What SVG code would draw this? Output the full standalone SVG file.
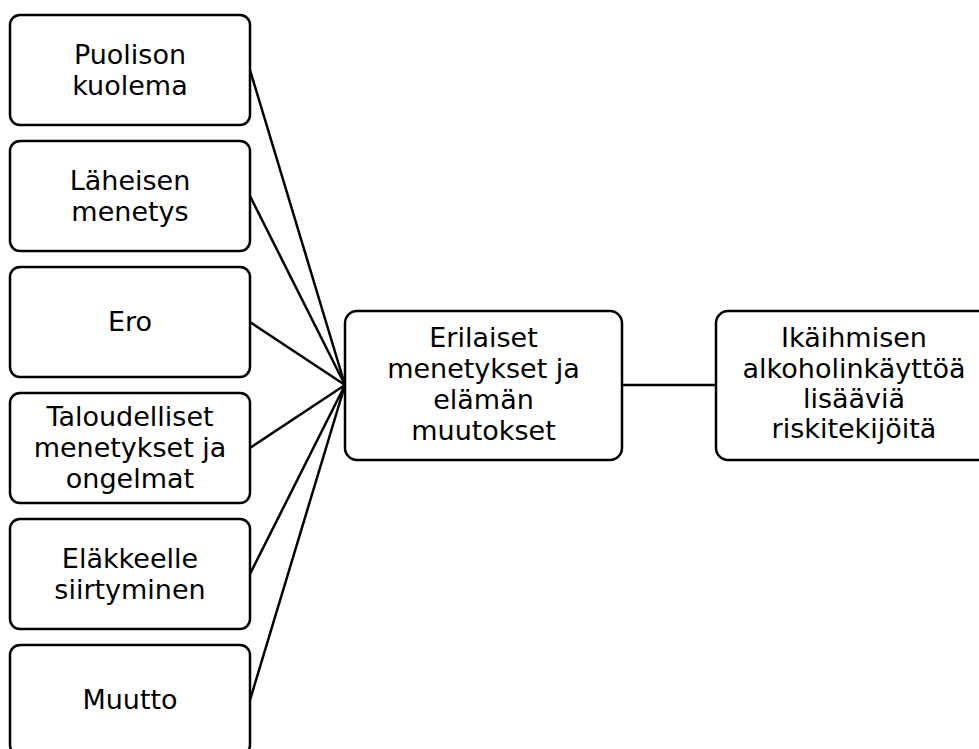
<svg xmlns="http://www.w3.org/2000/svg" width="979" height="749" viewBox="0 0 979 749">
<style>
.box{fill:#fff;stroke:#000;stroke-width:2.5}
.lbl{font-family:"DejaVu Sans",sans-serif;font-size:27px;fill:#000;text-anchor:middle}
.conn line{stroke:#000;stroke-width:2.5}
</style>
<rect width="979" height="749" fill="#fff"/>
<g id="connectors" class="conn">
<line x1="250" y1="70" x2="345" y2="385"/>
<line x1="250" y1="196" x2="345" y2="385"/>
<line x1="250" y1="322" x2="345" y2="385"/>
<line x1="250" y1="448" x2="345" y2="385"/>
<line x1="250" y1="574" x2="345" y2="385"/>
<line x1="250" y1="700" x2="345" y2="385"/>
<line x1="622" y1="385" x2="716" y2="385"/>
</g>
<g id="n1"><rect class="box" x="10" y="15" width="240" height="110" rx="10"/>
<text class="lbl" x="130" y="64">Puolison</text><text class="lbl" x="130" y="95">kuolema</text></g>
<g id="n2"><rect class="box" x="10" y="141" width="240" height="110" rx="10"/>
<text class="lbl" x="130" y="190">Läheisen</text><text class="lbl" x="130" y="221">menetys</text></g>
<g id="n3"><rect class="box" x="10" y="267" width="240" height="110" rx="10"/>
<text class="lbl" x="130" y="331">Ero</text></g>
<g id="n4"><rect class="box" x="10" y="393" width="240" height="110" rx="10"/>
<text class="lbl" x="130" y="426">Taloudelliset</text><text class="lbl" x="130" y="457">menetykset ja</text><text class="lbl" x="130" y="488">ongelmat</text></g>
<g id="n5"><rect class="box" x="10" y="519" width="240" height="110" rx="10"/>
<text class="lbl" x="130" y="568">Eläkkeelle</text><text class="lbl" x="130" y="599">siirtyminen</text></g>
<g id="n6"><rect class="box" x="10" y="645" width="240" height="110" rx="10"/>
<text class="lbl" x="130" y="709">Muutto</text></g>
<g id="n7"><rect class="box" x="345" y="311" width="277" height="149" rx="12"/>
<text class="lbl" x="483.5" y="347">Erilaiset</text><text class="lbl" x="483.5" y="378">menetykset ja</text><text class="lbl" x="483.5" y="409">elämän</text><text class="lbl" x="483.5" y="440">muutokset</text></g>
<g id="n8"><rect class="box" x="716" y="311" width="277" height="149" rx="12"/>
<text class="lbl" x="854" y="347">Ikäihmisen</text><text class="lbl" x="854" y="378">alkoholinkäyttöä</text><text class="lbl" x="854" y="408">lisääviä</text><text class="lbl" x="854" y="438">riskitekijöitä</text></g>
</svg>
